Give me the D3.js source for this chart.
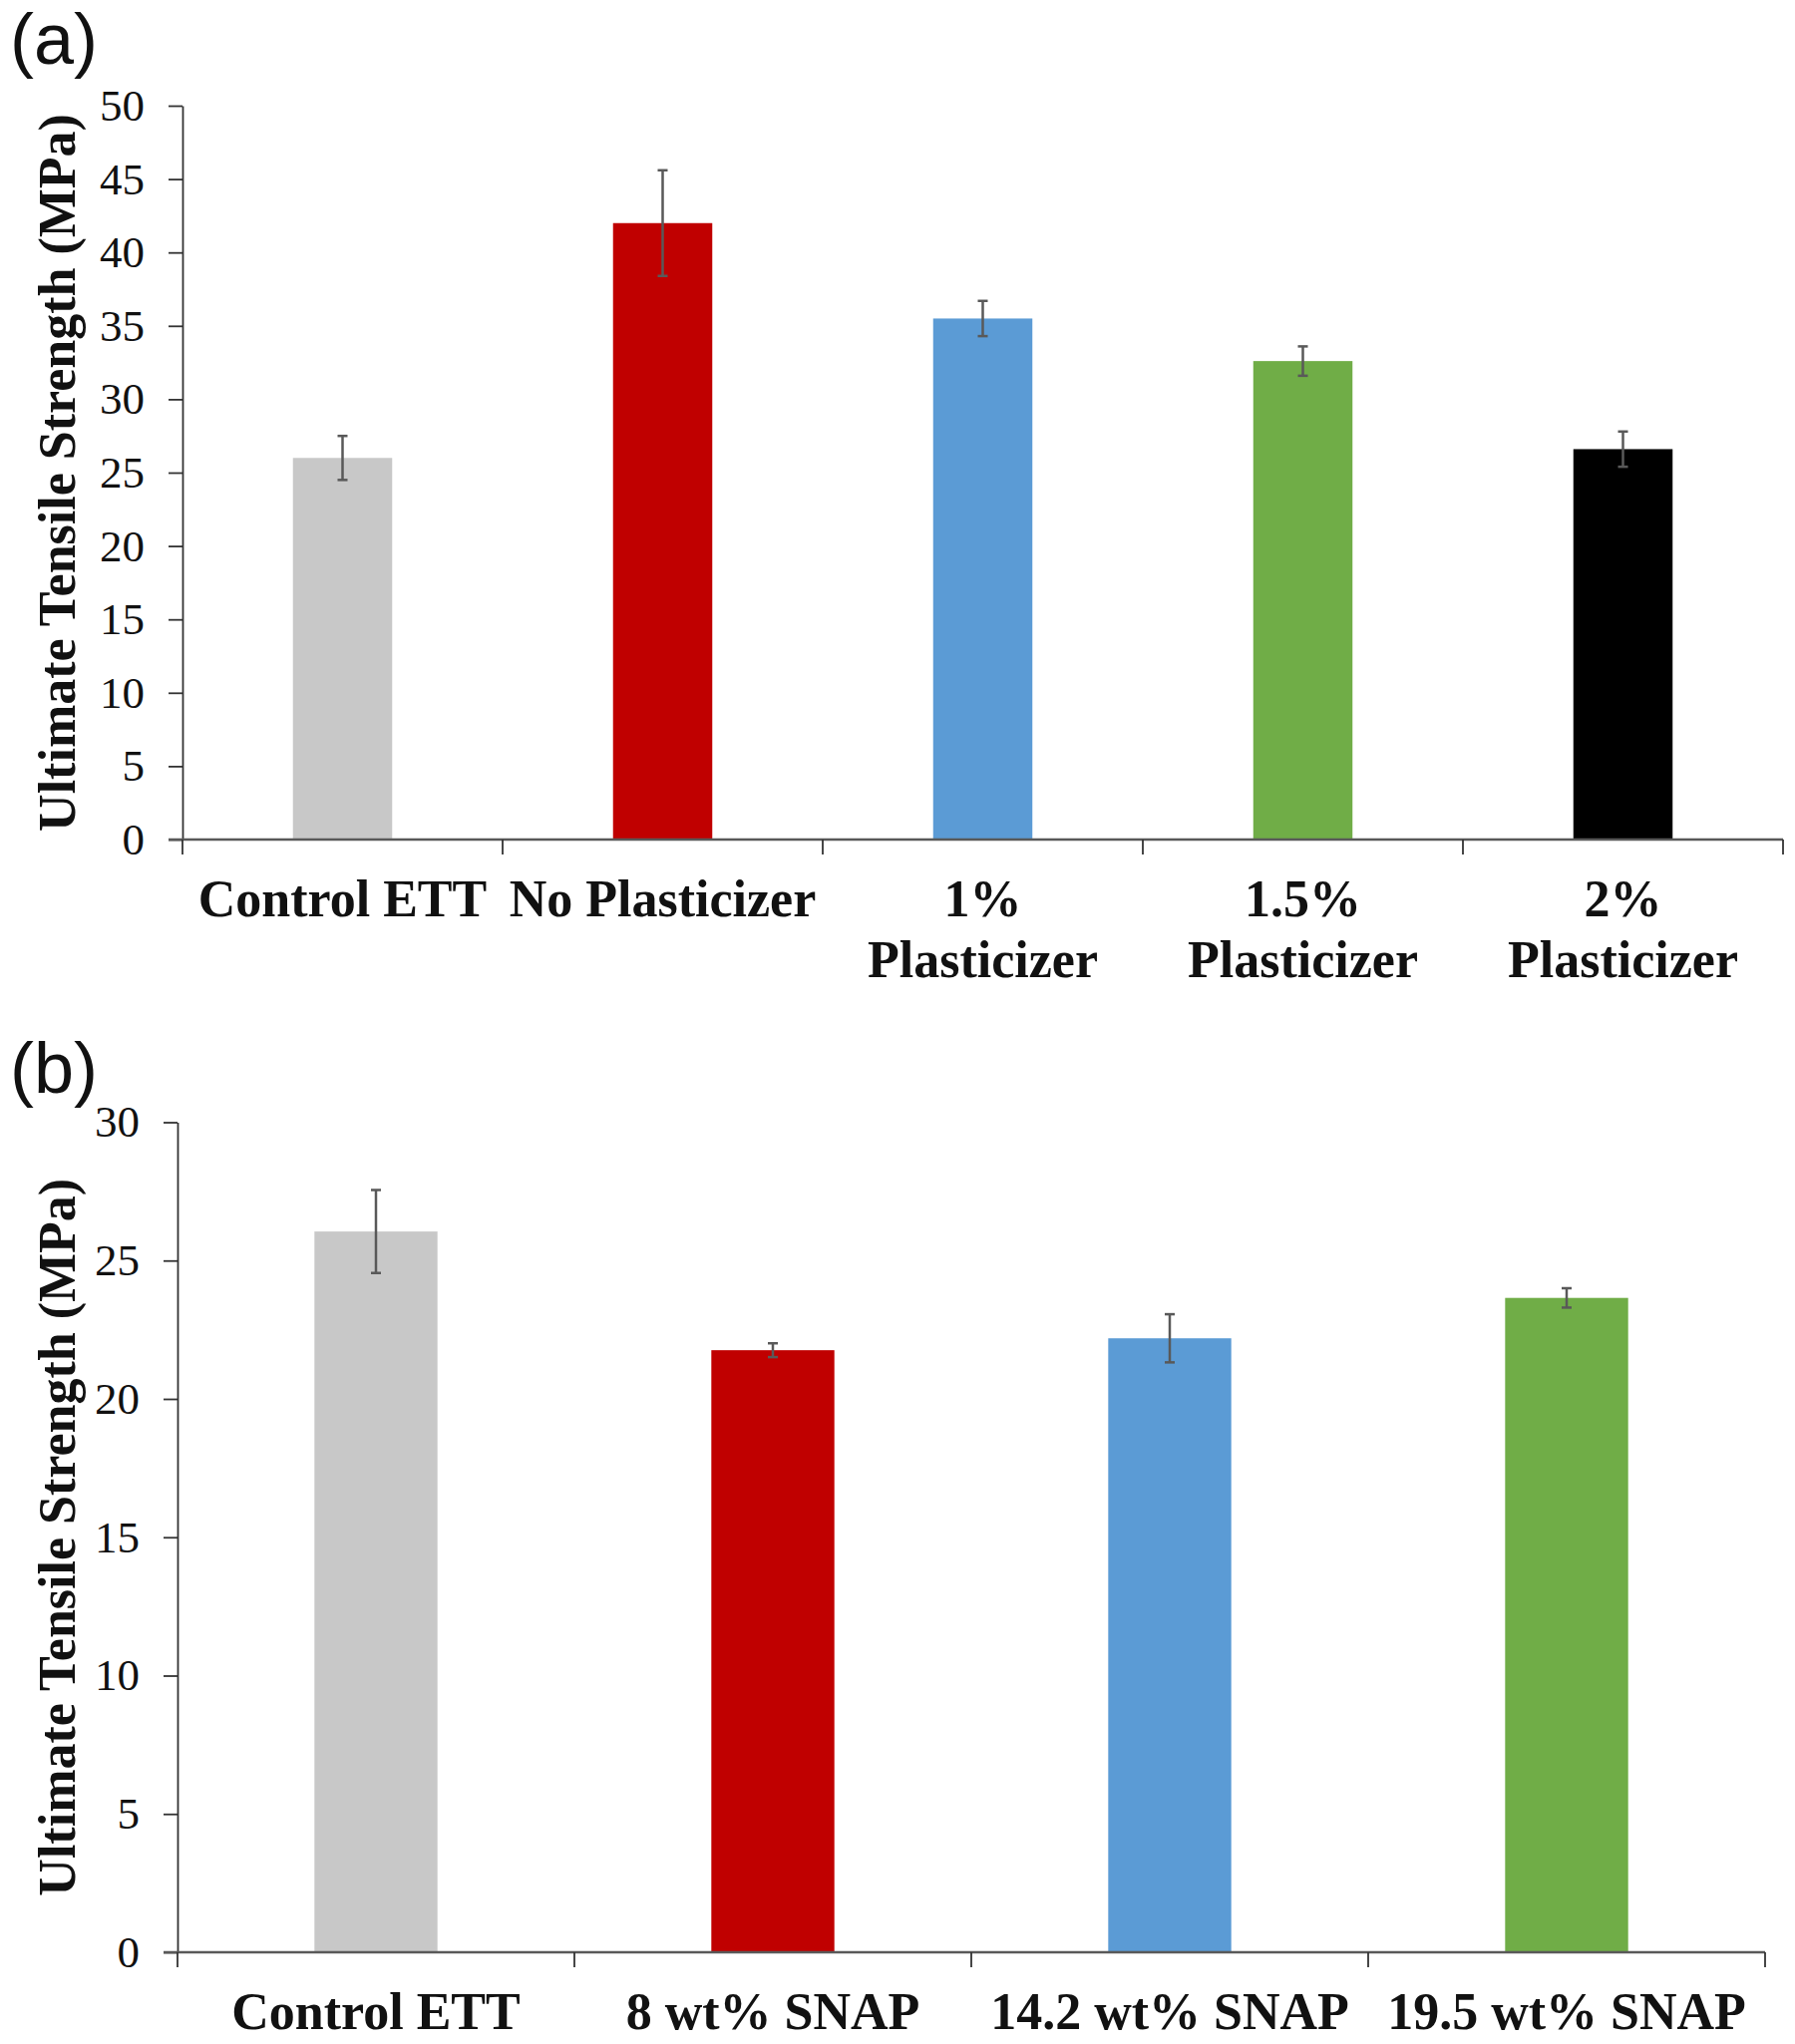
<!DOCTYPE html>
<html><head><meta charset="utf-8">
<script src="https://cdn.jsdelivr.net/npm/d3@7"></script>
<style>body{margin:0;background:#fff}</style>
</head><body>
<svg id="c" width="1800" height="2050"></svg>
<script>
const catsA = [["Control ETT"],["No Plasticizer"],["1%","Plasticizer"],["1.5%","Plasticizer"],["2%","Plasticizer"]];
const valsA = [26.0, 42.0, 35.5, 32.6, 26.6];
const errA  = [1.5, 3.6, 1.2, 1.0, 1.2];
const colorsA = ["#c8c8c8","#c00000","#5b9bd5","#70ad47","#000000"];
const ticksA = [0,5,10,15,20,25,30,35,40,45,50];

const catsB = [["Control ETT"],["8 wt% SNAP"],["14.2 wt% SNAP"],["19.5 wt% SNAP"]];
const valsB = [26.05, 21.76, 22.19, 23.65];
const errB  = [1.5, 0.25, 0.87, 0.35];
const colorsB = ["#c8c8c8","#c00000","#5b9bd5","#70ad47"];
const ticksB = [0,5,10,15,20,25,30];

const svg = d3.select("#c");

function panel(o){
  const g = svg.append("g");
  const x = d3.scaleBand().domain(o.cats.map((d,i)=>i)).range([o.x0,o.x1]).paddingInner(0.69).paddingOuter(0.345);
  const xb = d3.scaleBand().domain(o.cats.map((d,i)=>i)).range([o.x0,o.x1]);
  const y = d3.scaleLinear().domain([0,o.max]).range([o.y0,o.y1]);
  // bars
  g.selectAll("rect.bar").data(o.vals).join("rect")
    .attr("x",(d,i)=>x(i)).attr("width",x.bandwidth())
    .attr("y",d=>y(d)).attr("height",d=>y(0)-y(d))
    .attr("fill",(d,i)=>o.colors[i]);
  // error bars
  const cx = i=>x(i)+x.bandwidth()/2;
  const eg = g.append("g").attr("stroke","#595959").attr("stroke-width",2.5);
  o.vals.forEach((v,i)=>{
    eg.append("line").attr("x1",cx(i)).attr("x2",cx(i)).attr("y1",y(v+o.err[i])).attr("y2",y(v-o.err[i]));
    eg.append("line").attr("x1",cx(i)-5).attr("x2",cx(i)+5).attr("y1",y(v+o.err[i])).attr("y2",y(v+o.err[i]));
    eg.append("line").attr("x1",cx(i)-5).attr("x2",cx(i)+5).attr("y1",y(v-o.err[i])).attr("y2",y(v-o.err[i]));
  });
  // y axis
  const ya = g.append("g").attr("transform",`translate(${o.x0},0)`)
    .call(d3.axisLeft(y).tickValues(o.ticks).tickSize(14).tickSizeOuter(0).tickPadding(24));
  ya.select(".domain").attr("stroke","#333").attr("stroke-width",1.8);
  ya.selectAll(".tick line").attr("stroke","#333").attr("stroke-width",1.8);
  ya.selectAll(".tick text").attr("font-family","'Liberation Serif','Times New Roman',serif")
    .attr("font-size",45).attr("fill","#111");
  // x axis line + category separators
  const xg = g.append("g");
  xg.append("line").attr("x1",o.x0-14).attr("x2",o.x1).attr("y1",o.y0).attr("y2",o.y0)
    .attr("stroke","#595959").attr("stroke-width",2.5);
  const seps = o.cats.map((d,i)=>xb(i)).concat([o.x1]);
  xg.selectAll("line.sep").data(seps).join("line").attr("class","sep")
    .attr("x1",d=>d).attr("x2",d=>d).attr("y1",o.y0).attr("y2",o.y0+15)
    .attr("stroke","#333").attr("stroke-width",1.8);
  // category labels
  o.cats.forEach((lines,i)=>{
    const t = xg.append("text").attr("text-anchor","middle")
      .attr("font-family","'Liberation Serif','Times New Roman',serif").attr("font-weight","bold")
      .attr("font-size",o.lfs).attr("fill","#111");
    lines.forEach((s,j)=>t.append("tspan").attr("x",xb(i)+xb.bandwidth()/2).attr("y",o.ly+j*61).text(s));
  });
  // title
  g.append("text").attr("transform",`translate(${o.tx},${(o.y0+o.y1)/2}) rotate(-90)`)
    .attr("text-anchor","middle").attr("dominant-baseline","central")
    .attr("font-family","'Liberation Serif','Times New Roman',serif").attr("font-weight","bold")
    .attr("font-size",o.tfs).attr("fill","#111").text("Ultimate Tensile Strength (MPa)");
  // panel letter
  g.append("text").attr("x",10).attr("y",o.py).attr("font-family","'Liberation Sans',Arial,sans-serif")
    .attr("font-size",72).attr("fill","#111").text(o.letter);
}

panel({cats:catsA, vals:valsA, err:errA, colors:colorsA, ticks:ticksA, max:50,
  x0:183, x1:1788, y0:842, y1:106, ly:919, lfs:52, tx:57, tfs:52, py:64, letter:"(a)"});
panel({cats:catsB, vals:valsB, err:errB, colors:colorsB, ticks:ticksB, max:30,
  x0:178, x1:1770, y0:1958, y1:1125.5, ly:2035, lfs:52, tx:57, tfs:52, py:1096, letter:"(b)"});
</script>
</body></html>
